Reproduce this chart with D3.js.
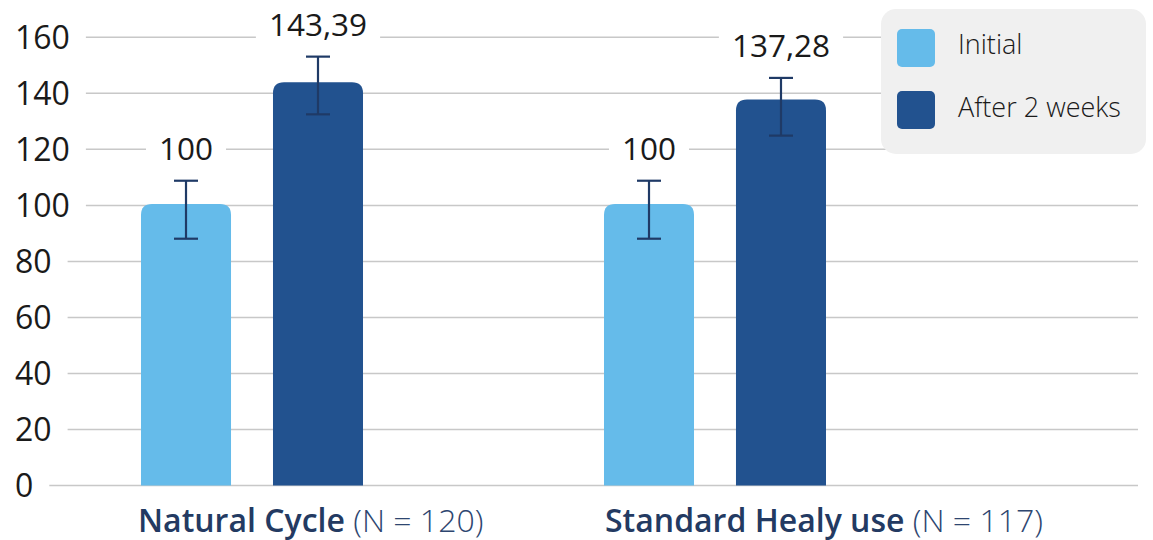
<!DOCTYPE html>
<html>
<head>
<meta charset="utf-8">
<script src="https://cdn.jsdelivr.net/npm/d3@7"></script>
<style>
  html, body { margin: 0; padding: 0; background: #fff; }
  svg { display: block; font-family: "Open Sans", sans-serif; }
</style>
</head>
<body>
<div id="chart"></div>
<script>
// --- data ---
const categories = ["Natural Cycle", "Standard Healy use"];
const categoryN = ["(N = 120)", "(N = 117)"];
const series = ["Initial", "After 2 weeks"];
const values = [[100, 143.39], [100, 137.28]];
const errLow = [[88.1, 132.5], [88.1, 124.9]];
const errHigh = [[108.8, 153.1], [108.8, 145.5]];
const valueLabels = [["100", "143,39"], ["100", "137,28"]];
const yTicks = [0, 20, 40, 60, 80, 100, 120, 140, 160];

const W = 1153, H = 540;
const colors = ["#65bbea", "#22528f"];
const navy = "#233a62";

const svg = d3.select("#chart").append("svg")
  .attr("width", W)
  .attr("height", H);

const y = d3.scaleLinear().domain([0, 160]).range([485.5, 37.3]);

const x0 = d3.scaleBand()
  .domain(categories)
  .range([141, 826])
  .paddingInner(0.5205)
  .paddingOuter(0);

const x1 = d3.scaleBand()
  .domain(series)
  .range([0, x0.bandwidth()])
  .paddingInner(0.318)
  .paddingOuter(0);

// --- y axis: left aligned labels, gridlines start after the label ---
const ticks = svg.append("g");
yTicks.forEach(t => {
  const txt = ticks.append("text")
    .attr("x", 15)
    .attr("y", y(t))
    .attr("dy", "0.36em")
    .attr("font-size", 32)
    .attr("fill", "#1a1a1a")
    .text(t);
  const w = txt.node().getComputedTextLength();
  ticks.insert("line", "text")
    .attr("x1", 15 + w + 16)
    .attr("x2", 1138)
    .attr("y1", y(t))
    .attr("y2", y(t))
    .attr("stroke", "#c8c8c8")
    .attr("stroke-width", 1.5);
});

// --- bars ---
const rows = [];
categories.forEach((c, i) => series.forEach((s, j) => rows.push({
  c, s, j, v: values[i][j], lo: errLow[i][j], hi: errHigh[i][j], label: valueLabels[i][j]
})));

function topRounded(x, yTop, w, yBase, r) {
  return `M${x},${yBase}V${yTop + r}Q${x},${yTop} ${x + r},${yTop}H${x + w - r}Q${x + w},${yTop} ${x + w},${yTop + r}V${yBase}Z`;
}

const bw = x1.bandwidth();
svg.append("g").selectAll("path")
  .data(rows)
  .join("path")
    .attr("d", d => topRounded(x0(d.c) + x1(d.s), y(d.v) - 1.5, bw, y(0), 11))
    .attr("fill", d => colors[d.j]);

// --- error bars ---
const eb = svg.append("g")
  .attr("stroke", "#1f3a66")
  .attr("stroke-width", 2.2)
  .attr("fill", "none");
rows.forEach(d => {
  const cx = x0(d.c) + x1(d.s) + bw / 2;
  eb.append("line").attr("x1", cx).attr("x2", cx).attr("y1", y(d.hi)).attr("y2", y(d.lo));
  eb.append("line").attr("x1", cx - 12).attr("x2", cx + 12).attr("y1", y(d.hi)).attr("y2", y(d.hi));
  eb.append("line").attr("x1", cx - 12).attr("x2", cx + 12).attr("y1", y(d.lo)).attr("y2", y(d.lo));
});

// --- value labels with white backing ---
const vl = svg.append("g");
rows.forEach(d => {
  const cx = x0(d.c) + x1(d.s) + bw / 2;
  const g = vl.append("g");
  const t = g.append("text")
    .attr("x", cx)
    .attr("y", y(d.hi) - 21)
    .attr("text-anchor", "middle")
    .attr("font-size", 31.5)
    .attr("fill", "#1a1a1a")
    .text(d.label);
  const b = t.node().getBBox();
  g.insert("rect", "text")
    .attr("x", b.x - 13).attr("y", b.y)
    .attr("width", b.width + 26).attr("height", b.height)
    .attr("fill", "#fff");
});

// --- category labels ---
categories.forEach((c, i) => {
  const t = svg.append("text")
    .attr("x", x0(c) - 3 + i * 4)
    .attr("y", 531.5)
    .attr("font-size", 32)
    .attr("fill", navy);
  t.append("tspan").attr("font-weight", 600).text(c + " ");
  t.append("tspan").attr("font-weight", 300).attr("fill", "#2e4670").text(categoryN[i]);
});

// --- legend ---
const lg = svg.append("g");
lg.append("rect")
  .attr("x", 881).attr("y", 9)
  .attr("width", 265).attr("height", 145)
  .attr("rx", 15)
  .attr("fill", "#f0f0f0");
series.forEach((s, j) => {
  lg.append("rect")
    .attr("x", 897).attr("y", 29 + j * 62)
    .attr("width", 38).attr("height", 38)
    .attr("rx", 5)
    .attr("fill", colors[j]);
  lg.append("text")
    .attr("x", 958).attr("y", 54 + j * 63)
    .attr("font-size", 27)
    .attr("font-weight", 300)
    .attr("fill", "#1a1a1a")
    .text(s);
});
</script>
</body>
</html>
